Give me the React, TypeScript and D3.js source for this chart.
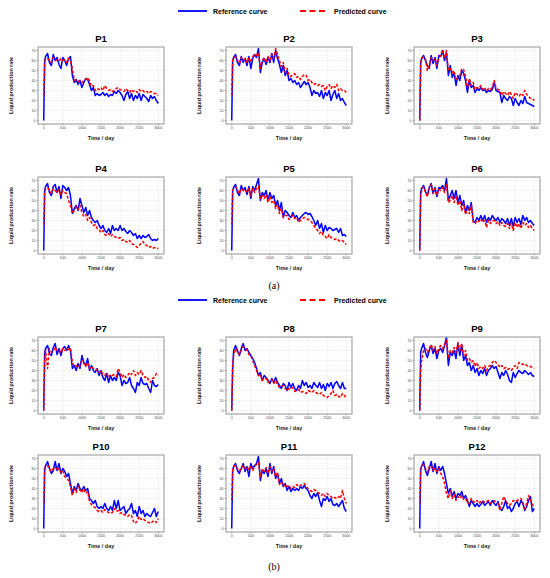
import React from 'react';
import * as d3 from 'd3';

// shared time axis (days)
const days = [
  0, 25, 50, 100, 150, 200, 250, 300, 350, 400,
  450, 500, 550, 600, 650, 700, 750, 800, 850, 900,
  950, 1000, 1050, 1100, 1150, 1200, 1250, 1300, 1350, 1400,
  1450, 1500, 1550, 1600, 1650, 1700, 1750, 1800, 1850, 1900,
  1950, 2000, 2050, 2100, 2150, 2200, 2250, 2300, 2350, 2400,
  2450, 2500, 2550, 2600, 2650, 2700, 2750, 2800, 2850, 2900,
  2950, 3000,
];

const xTicks = [0, 500, 1000, 1500, 2000, 2500, 3000];
const yTicks = [0, 10, 20, 30, 40, 50, 60, 70];

const p1Ref = [
  0, 60, 64, 67, 58, 55, 66, 60, 63, 56,
  52, 63, 60, 55, 62, 64, 45, 38, 41, 36,
  40, 33, 38, 42, 41, 36, 30, 33, 25, 27,
  25, 26, 28, 25, 27, 24, 26, 25, 29, 27,
  30, 28, 25, 20, 26, 29, 22, 27, 20, 25,
  22, 27, 20, 26, 24, 22, 19, 25, 22, 24,
  20, 17,
];
const p1Pred = [
  25, 58, 62, 62, 60, 58, 63, 61, 60, 59,
  62, 60, 61, 58, 62, 60, 52, 40, 41, 39,
  40, 38, 40, 41, 43, 40, 34, 35, 30, 32,
  31, 33, 30, 35, 32, 30, 31, 29, 30, 32,
  33, 31, 30, 29, 32, 30, 28, 31, 29, 30,
  28, 31, 29, 30, 28, 29, 27, 29, 28, 27,
  27, 25,
];

const p2Ref = [
  0, 60, 63, 66, 58, 55, 64, 58, 62, 55,
  64, 52, 62, 66, 63, 72, 48, 58, 62, 56,
  63, 58, 67, 58, 70, 62, 56, 48, 55, 45,
  50, 40, 42, 38, 40, 36, 38, 33, 36, 39,
  36, 38, 33, 25, 30, 27, 28, 24, 30, 22,
  28, 25, 30, 20, 26, 30, 22, 27, 20, 22,
  18, 15,
];
const p2Pred = [
  25, 60, 62, 64, 60, 57, 63, 60, 62, 58,
  63, 58, 64, 66, 65, 68, 52, 60, 63, 58,
  64, 60, 66, 62, 72, 66, 60, 54, 58, 48,
  52, 45, 44, 46, 47, 43, 44, 41, 44, 46,
  45, 40, 41, 38, 36, 37, 35, 36, 34, 35,
  30, 34, 36, 32, 35, 33, 36, 30, 32, 30,
  30, 28,
];

const p3Ref = [
  0, 58, 62, 65, 60, 55, 52, 65, 57, 63,
  52, 65, 64, 70, 60, 68, 45, 55, 43, 48,
  35, 45, 40, 50, 47, 40, 28, 40, 33, 35,
  28, 32, 30, 33, 30, 31, 28, 30, 29, 31,
  38, 30, 29, 28, 18, 25, 22, 20, 24, 22,
  15, 22, 18, 15, 20, 17, 24, 18, 17, 16,
  15, 14,
];
const p3Pred = [
  0, 56, 62, 64, 61, 50, 55, 63, 60, 62,
  55, 63, 65, 71, 62, 70, 50, 52, 48, 50,
  40, 43, 45, 52, 51, 44, 33, 42, 35, 38,
  31, 33, 32, 35, 31, 33, 29, 32, 31, 33,
  40, 32, 31, 30, 25, 29, 27, 25, 29, 26,
  22, 28, 26, 24, 27, 25, 30, 26, 24, 22,
  22, 20,
];

const p4Ref = [
  0, 60, 64, 67, 58, 55, 64, 66, 58, 64,
  52, 65, 63, 60, 63, 55, 37, 42, 45, 40,
  52, 45, 38, 43, 35, 40, 33, 30, 28, 30,
  25, 22, 25, 20, 18, 22, 17, 25, 20, 22,
  20, 25, 20, 22, 19, 17, 20, 18, 15, 17,
  12, 15, 12, 15, 13, 14, 16, 12, 10, 11,
  10, 12,
];
const p4Pred = [
  26, 58, 62, 63, 60, 57, 62, 60, 58, 61,
  56, 60, 58, 57, 50, 45, 37, 40, 44, 41,
  45, 38, 34, 36, 30, 33, 28, 25, 26, 22,
  21, 18, 20, 16, 15, 17, 14, 16, 14, 13,
  12, 13, 10, 11, 9, 8, 10, 7, 6, 5,
  3, 5, 7, 9, 6, 5, 3, 4, 2, 3,
  2, 2,
];

const p5Ref = [
  0, 60, 63, 66, 58, 55, 65, 60, 63, 56,
  64, 52, 64, 60, 66, 72, 50, 58, 55, 60,
  50, 58, 52, 55, 45, 50, 40, 48, 33, 40,
  38, 35, 33, 38, 33, 35, 30, 33, 35, 37,
  38, 36, 37, 34, 30, 25, 30, 22, 27, 18,
  25, 20, 23, 22, 20, 21, 22, 18, 22, 15,
  16, 14,
];
const p5Pred = [
  26, 60, 62, 64, 60, 57, 62, 60, 61, 58,
  62, 55, 62, 58, 62, 64, 52, 55, 52, 56,
  48, 54, 48, 50, 42, 46, 37, 42, 33, 35,
  35, 31, 33, 35, 32, 33, 28, 30, 32, 33,
  32, 31, 30, 28, 25, 22, 20, 17, 19, 15,
  14, 12, 16, 13, 12, 11, 12, 10, 9, 10,
  8, 6,
];

const p6Ref = [
  0, 58, 62, 65, 59, 55, 63, 67, 57, 63,
  54, 63, 62, 65, 60, 72, 50, 55, 60, 52,
  60, 48, 55, 45, 50, 38, 45, 40, 48, 30,
  28, 33, 30, 35, 30, 35, 28, 33, 30, 35,
  32, 30, 33, 28, 32, 30, 27, 32, 25, 32,
  24, 33, 28, 32, 26, 35, 30, 33, 28, 30,
  27, 25,
];
const p6Pred = [
  0, 56, 60, 64, 58, 54, 62, 66, 57, 62,
  55, 61, 60, 63, 58, 66, 48, 50, 55, 48,
  55, 45, 50, 40, 47, 36, 42, 37, 45, 28,
  27, 30, 29, 32, 28, 30, 23, 30, 27, 30,
  30, 27, 29, 25, 28, 25, 24, 27, 22, 27,
  20, 28, 23, 27, 22, 28, 25, 27, 23, 25,
  22, 20,
];

const p7Ref = [
  0, 58, 62, 65, 57, 55, 63, 67, 56, 62,
  55, 62, 64, 60, 65, 60, 42, 45, 40, 47,
  42, 55, 48, 45, 52, 40, 45, 40, 38, 42,
  35, 40, 33, 30, 37, 28, 35, 30, 33, 30,
  38, 35, 25, 30, 27, 28, 33, 25, 22, 18,
  28, 25, 33, 27, 26, 27, 22, 18, 30, 25,
  24, 26,
];
const p7Pred = [
  0, 50, 60, 42, 62, 58, 60, 63, 60, 61,
  58, 62, 60, 62, 61, 63, 48, 44, 45, 43,
  45, 50, 47, 44, 48, 42, 44, 42, 40, 41,
  38, 40, 36, 35, 38, 33, 36, 35, 36, 34,
  42, 38, 33, 36, 33, 35, 38, 36, 40, 35,
  38, 36, 40, 35, 33, 34, 30, 28, 32, 33,
  37, 35,
];

const p8Ref = [
  0, 42, 60, 65, 60, 55, 62, 67, 60, 62,
  58, 55, 52, 48, 42, 35, 38, 30, 35, 33,
  30, 27, 32, 28, 33, 28, 25, 22, 27, 25,
  20, 28, 23, 27, 22, 20, 25, 22, 30, 25,
  28, 23, 25, 22, 28, 25, 23, 28, 22, 26,
  20, 27, 24, 28, 22, 27, 29, 25, 22, 28,
  22, 22,
];
const p8Pred = [
  0, 45, 55, 62, 58, 56, 60, 64, 62, 60,
  56, 55, 50, 45, 40, 35, 36, 30, 33, 32,
  28, 30, 31, 27, 30, 26, 23, 24, 25, 22,
  20, 22, 21, 23, 19, 20, 21, 18, 19, 18,
  17, 20, 19, 18, 20, 18, 17, 16, 18, 15,
  14, 13, 15, 17, 20, 15, 16, 14, 13, 17,
  15, 12,
];

const p9Ref = [
  0, 58, 62, 67, 58, 53, 60, 65, 57, 62,
  52, 60, 62, 58, 65, 73, 45, 58, 55, 60,
  52, 67, 55, 66, 50, 55, 45, 48, 40, 45,
  38, 42, 35, 40, 37, 42, 35, 40, 42, 45,
  42, 44, 38, 32, 38, 35, 40, 36, 30, 28,
  38, 33, 37, 40, 38, 37, 40, 38, 36, 38,
  35, 34,
];
const p9Pred = [
  0, 40, 50, 60, 62, 58, 62, 66, 60, 64,
  57, 62, 65, 62, 66, 70, 52, 60, 58, 63,
  58, 68, 60, 67, 55, 60, 50, 52, 48, 50,
  44, 48, 42, 44, 42, 45, 40, 44, 45, 48,
  50, 48, 46, 43, 45, 42, 43, 41, 42, 40,
  43, 45, 42, 48, 47, 46, 47, 45, 44, 44,
  43, 42,
];

const p10Ref = [
  0, 60, 63, 67, 60, 55, 58, 67, 58, 65,
  55, 60, 57, 52, 55, 45, 35, 42, 38, 45,
  40, 38, 42, 38, 40, 30, 28, 25, 28, 22,
  20, 22, 20, 25, 20, 18, 22, 18, 28, 20,
  28, 18, 20, 22, 15, 18, 20, 25, 15, 18,
  12, 22, 15, 18, 12, 15, 13, 12, 16, 20,
  12, 17,
];
const p10Pred = [
  25, 58, 62, 63, 60, 57, 60, 62, 58, 60,
  56, 58, 52, 50, 48, 42, 33, 40, 36, 42,
  38, 36, 40, 35, 37, 27, 24, 22, 21, 18,
  17, 18, 16, 19, 17, 16, 15, 16, 20, 17,
  18, 15, 16, 14, 13, 12, 14, 13, 7, 5,
  8, 12, 9, 10, 8, 7, 6, 5, 7, 8,
  6, 10,
];

const p11Ref = [
  0, 58, 62, 65, 58, 55, 60, 65, 57, 62,
  52, 65, 60, 63, 65, 72, 48, 58, 55, 60,
  52, 65, 55, 62, 50, 55, 45, 50, 42, 45,
  38, 42, 37, 40, 38, 40, 38, 42, 40, 43,
  40, 38, 33, 30, 35, 32, 36, 28, 22, 30,
  28, 32, 27, 30, 24, 23, 25, 22, 25, 28,
  20, 17,
];
const p11Pred = [
  28, 58, 62, 63, 60, 57, 61, 63, 60, 62,
  58, 63, 58, 62, 64, 66, 52, 60, 57, 61,
  55, 62, 57, 60, 52, 56, 44, 47, 42, 44,
  42, 43, 40, 42, 41, 44, 42, 43, 44, 45,
  42, 40, 38, 37, 39, 38, 36, 35, 33, 35,
  32, 35, 33, 32, 30, 31, 30, 32, 30, 38,
  30, 25,
];

const p12Ref = [
  0, 60, 62, 67, 58, 53, 60, 67, 57, 65,
  55, 62, 58, 62, 55, 45, 35, 40, 32, 37,
  30, 35, 33, 37, 30, 33, 28, 22, 28, 25,
  22, 25, 22, 24, 27, 23, 25, 27, 23, 28,
  25, 23, 27, 20, 18, 22, 28, 20, 22, 17,
  20, 25, 27, 22, 28, 25, 18, 22, 28, 32,
  17, 20,
];
const p12Pred = [
  25, 58, 62, 64, 60, 56, 62, 63, 58, 60,
  57, 60, 55, 52, 45, 35, 30, 38, 30, 34,
  28, 32, 30, 33, 29, 30, 26, 25, 30, 27,
  26, 28, 25, 27, 28, 26, 27, 28, 25, 27,
  28, 26, 25, 18, 25, 32, 28, 25, 23, 25,
  28, 27, 28, 29, 30, 26, 20, 25, 33, 28,
  24, 22,
];

const wells = [
  { name: 'P1', ref: p1Ref, pred: p1Pred },
  { name: 'P2', ref: p2Ref, pred: p2Pred },
  { name: 'P3', ref: p3Ref, pred: p3Pred },
  { name: 'P4', ref: p4Ref, pred: p4Pred },
  { name: 'P5', ref: p5Ref, pred: p5Pred },
  { name: 'P6', ref: p6Ref, pred: p6Pred },
  { name: 'P7', ref: p7Ref, pred: p7Pred },
  { name: 'P8', ref: p8Ref, pred: p8Pred },
  { name: 'P9', ref: p9Ref, pred: p9Pred },
  { name: 'P10', ref: p10Ref, pred: p10Pred },
  { name: 'P11', ref: p11Ref, pred: p11Pred },
  { name: 'P12', ref: p12Ref, pred: p12Pred },
];

// layout
const rowTops = [47, 177, 337, 455];
const colLefts = [38, 226, 414];
const boxW = 126;
const boxH = 77;
const SANS = '"Liberation Sans", Arial, sans-serif';
const SERIF = '"Liberation Serif", "Times New Roman", serif';

const BLUE = '#0000ff';
const RED = '#ff0000';

function Panel({ name, refVals, predVals, left, top }: {
  name: string; refVals: number[]; predVals: number[]; left: number; top: number;
}) {
  const x = d3.scaleLinear().domain([-150, 3150]).range([left, left + boxW]);
  const y = d3.scaleLinear().domain([-3.5, 73.5]).range([top + boxH, top]);
  const line = d3.line<number>().x((_, i) => x(days[i])).y((d) => y(d));
  const minorX = d3.range(250, 3000, 500);
  const minorY = d3.range(5, 70, 10);

  return (
    <g>
      <rect x={left} y={top} width={boxW} height={boxH} fill="#fff" />
      {minorX.map((t) => (
        <line key={'mx' + t} x1={x(t)} x2={x(t)} y1={top} y2={top + boxH} stroke="#f4f4f4" strokeWidth={0.4} />
      ))}
      {minorY.map((t) => (
        <line key={'my' + t} x1={left} x2={left + boxW} y1={y(t)} y2={y(t)} stroke="#f4f4f4" strokeWidth={0.4} />
      ))}
      {xTicks.map((t) => (
        <line key={'gx' + t} x1={x(t)} x2={x(t)} y1={top} y2={top + boxH} stroke="#e6e6e6" strokeWidth={0.5} />
      ))}
      {yTicks.map((t) => (
        <line key={'gy' + t} x1={left} x2={left + boxW} y1={y(t)} y2={y(t)} stroke="#e6e6e6" strokeWidth={0.5} />
      ))}
      <path d={line(refVals) || ''} fill="none" stroke={BLUE} strokeWidth={1.5} strokeLinejoin="round" />
      <path d={line(predVals) || ''} fill="none" stroke={RED} strokeWidth={1.5} strokeDasharray="3,1.8" strokeLinejoin="round" />
      <rect x={left} y={top} width={boxW} height={boxH} fill="none" stroke="#a6a6a6" strokeWidth={1.2} />
      {xTicks.map((t) => (
        <g key={'tx' + t}>
          <line x1={x(t)} x2={x(t)} y1={top + boxH} y2={top + boxH + 1.5} stroke="#555" strokeWidth={0.4} />
          <text x={x(t)} y={top + boxH + 5.4} textAnchor="middle" fontSize={3.6} fill="#4d4d4d" fontFamily={SANS}>{t}</text>
        </g>
      ))}
      {yTicks.map((t) => (
        <g key={'ty' + t}>
          <line x1={left - 1.5} x2={left} y1={y(t)} y2={y(t)} stroke="#555" strokeWidth={0.4} />
          <text x={left - 2.5} y={y(t) + 1.2} textAnchor="end" fontSize={3.6} fill="#4d4d4d" fontFamily={SANS}>{t}</text>
        </g>
      ))}
      <text x={left + boxW / 2} y={top - 5} textAnchor="middle" fontSize={9.5} fontWeight="bold" fontFamily={SANS}>{name}</text>
      <text x={left + boxW / 2} y={top + boxH + 16} textAnchor="middle" fontSize={5.4} fontWeight="bold" fill="#222" fontFamily={SANS}>Time / day</text>
      <text transform={`translate(${left - 27},${top + boxH / 2}) rotate(-90)`} textAnchor="middle" dy="0.35em" fontSize={5.4} fontWeight="bold" fill="#222" fontFamily={SANS}>Liquid production rate</text>
    </g>
  );
}

function Legend({ y }: { y: number }) {
  return (
    <g>
      <line x1={178} x2={207} y1={y} y2={y} stroke={BLUE} strokeWidth={1.8} />
      <text x={213} y={y + 2.5} fontSize={7} fontWeight="bold" fontFamily={SANS}>Reference curve</text>
      <line x1={300} x2={328} y1={y} y2={y} stroke={RED} strokeWidth={1.8} strokeDasharray="6,3.5" />
      <text x={334} y={y + 2.5} fontSize={7} fontWeight="bold" fontFamily={SANS}>Predicted curve</text>
    </g>
  );
}

export default function App() {
  return (
    <svg width={550} height={578} style={{ position: 'absolute', left: 0, top: 0, background: '#fff' }}>
      <rect width={550} height={578} fill="#fff" />
      <Legend y={11} />
      <Legend y={300} />
      {wells.map((w, i) => (
        <Panel
          key={w.name}
          name={w.name}
          refVals={w.ref}
          predVals={w.pred}
          left={colLefts[i % 3]}
          top={rowTops[Math.floor(i / 3)]}
        />
      ))}
      <text x={274} y={289} textAnchor="middle" fontSize={10} fontFamily={SERIF}>(a)</text>
      <text x={274} y={570} textAnchor="middle" fontSize={10} fontFamily={SERIF}>(b)</text>
    </svg>
  );
}
